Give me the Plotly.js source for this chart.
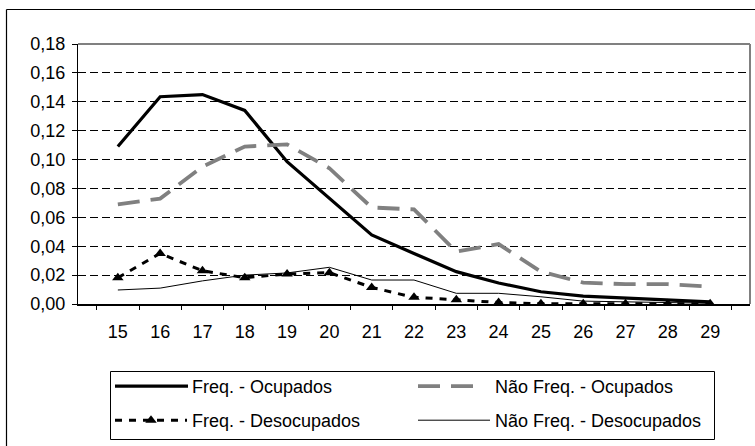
<!DOCTYPE html>
<html>
<head>
<meta charset="utf-8">
<script src="https://cdn.plot.ly/plotly-3.0.1.min.js"></script>
<style>
html,body{margin:0;padding:0;background:#fff;}
#chart{width:755px;height:446px;}
</style>
</head>
<body>
<div id="chart"></div>
<script>
var ages = ['15','16','17','18','19','20','21','22','23','24','25','26','27','28','29'];
var freqOcupados = [0.109, 0.1435, 0.145, 0.134, 0.0985, 0.073, 0.0478, 0.035, 0.0224, 0.0145, 0.0085, 0.0055, 0.004, 0.0028, 0.0015];
var naoFreqOcupados = [0.069, 0.073, 0.095, 0.109, 0.1105, 0.094, 0.0668, 0.0655, 0.0362, 0.0415, 0.0224, 0.0148, 0.0137, 0.0137, 0.012];
var freqDesocupados = [0.0182, 0.035, 0.023, 0.0182, 0.0208, 0.0217, 0.0115, 0.0046, 0.003, 0.001, 0.0002, 0.0002, 0.0002, 0.0002, 0.0002];
var naoFreqDesocupados = [0.0097, 0.011, 0.016, 0.020, 0.0215, 0.0254, 0.0166, 0.0166, 0.0074, 0.0074, 0.005, 0.002, 0.0015, 0.001, 0.0005];
var seriesNames = ['Freq. - Ocupados', 'Não Freq. - Ocupados', 'Freq. - Desocupados', 'Não Freq. - Desocupados'];
var yTicks = [0, 0.02, 0.04, 0.06, 0.08, 0.10, 0.12, 0.14, 0.16, 0.18];

var FONT = 'Liberation Sans, Arial, sans-serif';
var W = 755, H = 446, L = 78, R = 5, T = 44, B = 142;
var PW = W - L - R, PH = H - T - B;
function px(x){ return (x - L) / PW; }
function py(y){ return (H - B - y) / PH; }

var traces = [
  {x: ages, y: freqOcupados, name: seriesNames[0], type: 'scatter', mode: 'lines',
   line: {color: '#000', width: 3.2}, legend: 'legend'},
  {x: ages, y: naoFreqOcupados, name: seriesNames[1], type: 'scatter', mode: 'lines',
   line: {color: '#808080', width: 3.8, dash: '22px,11px'}, legend: 'legend'},
  {x: ages, y: freqDesocupados, name: seriesNames[2], type: 'scatter', mode: 'lines+markers',
   line: {color: '#000', width: 3, dash: '7px,7px'},
   marker: {symbol: 'triangle-up', size: 10, color: '#000'}, legend: 'legend2'},
  {x: ages, y: naoFreqDesocupados, name: seriesNames[3], type: 'scatter', mode: 'lines',
   line: {color: '#000', width: 1}, legend: 'legend2'}
];

var legendCommon = {
  orientation: 'h', xanchor: 'left', yanchor: 'top',
  x: px(110), bgcolor: 'rgba(0,0,0,0)', borderwidth: 0,
  font: {family: FONT, size: 18, color: '#000'},
  itemwidth: 72, entrywidth: 216, entrywidthmode: 'pixels',
  traceorder: 'normal', itemclick: false, itemdoubleclick: false
};
var legend1 = Object.assign({}, legendCommon, {y: py(368)});
var legend2 = Object.assign({}, legendCommon, {y: py(402)});

var layout = {
  width: W, height: H,
  margin: {l: L, r: R, t: T, b: B, pad: 0},
  paper_bgcolor: '#fff', plot_bgcolor: '#fff',
  separators: ',.',
  font: {family: FONT, size: 18, color: '#000'},
  showlegend: true,
  legend: legend1,
  legend2: legend2,
  xaxis: {
    type: 'category', tickson: 'boundaries', ticks: 'outside', ticklen: 4, tickwidth: 1, tickcolor: '#000',
    showline: true, linecolor: '#000', linewidth: 1.5, showgrid: false, zeroline: false,
    ticklabelstandoff: 11,
    tickfont: {family: FONT, size: 18, color: '#000'}, fixedrange: true
  },
  yaxis: {
    range: [0, 0.18], tickvals: yTicks, tickformat: '.2f', ticks: 'outside', ticklen: 5, tickwidth: 1, tickcolor: '#000',
    showline: true, linecolor: '#000', linewidth: 1, zeroline: false,
    showgrid: true, gridcolor: '#000', gridwidth: 1, griddash: '8px,4px',
    ticklabelstandoff: 3,
    tickfont: {family: FONT, size: 18, color: '#000'}, fixedrange: true
  },
  shapes: [
    // plot area border (top & right, gray)
    {type: 'line', xref: 'paper', yref: 'paper', x0: 0, x1: 1, y0: 1, y1: 1, line: {color: '#808080', width: 2}},
    {type: 'line', xref: 'paper', yref: 'paper', x0: 1, x1: 1, y0: 0, y1: 1, line: {color: '#808080', width: 2}},
    // outer chart frame (left & top)
    {type: 'line', xref: 'paper', yref: 'paper', x0: px(6.5), x1: px(6.5), y0: py(9.5), y1: py(460), line: {color: '#000', width: 1.2}},
    {type: 'line', xref: 'paper', yref: 'paper', x0: px(6.5), x1: px(770), y0: py(9.5), y1: py(9.5), line: {color: '#000', width: 1.2}},
    // legend box
    {type: 'rect', xref: 'paper', yref: 'paper', x0: px(110.5), x1: px(714.5), y0: py(371.5), y1: py(439.5), line: {color: '#000', width: 1}, fillcolor: 'rgba(0,0,0,0)'}
  ]
};

Plotly.newPlot('chart', traces, layout, {staticPlot: true, displayModeBar: false}).then(function(){
  var lens = {};
  lens[seriesNames[0]] = 73; lens[seriesNames[1]] = 65;
  lens[seriesNames[2]] = 73; lens[seriesNames[3]] = 65;
  document.querySelectorAll('g.traces').forEach(function(g){
    var t = g.querySelector('.legendtext');
    if(!t) return;
    var len = lens[t.textContent];
    if(!len) return;
    g.querySelectorAll('.legendlines path').forEach(function(p){ p.setAttribute('d', 'M5,0h' + len); });
    g.querySelectorAll('.legendpoints path').forEach(function(p){ p.setAttribute('transform', 'translate(' + (5 + len/2) + ',0)'); });
  });
});
</script>
</body>
</html>
